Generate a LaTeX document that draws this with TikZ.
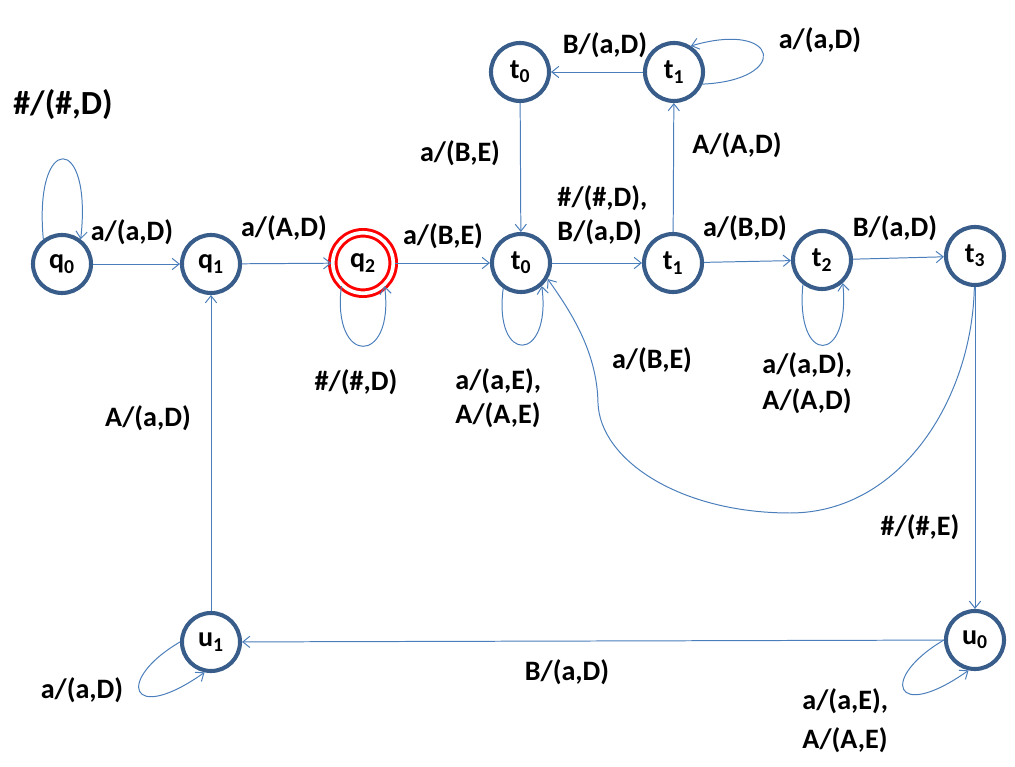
\documentclass[tikz,border=0pt]{standalone}
\usepackage{fontspec}
\setmainfont{Carlito}
\usetikzlibrary{arrows.meta}
\definecolor{ringblue}{RGB}{56,93,138}
\definecolor{lineblue}{RGB}{74,126,187}

\begin{document}
\begin{tikzpicture}[x=0.025cm,y=-0.025cm,
	st/.style={shape=circle,draw=ringblue,line width=2.9pt,minimum size=1.45cm,inner sep=0pt,font=\fontsize{20}{24}\selectfont\bfseries},
	fin/.style={shape=circle,draw=red,double,line width=2.1pt,double distance=2.6pt,minimum size=1.51cm,inner sep=0pt,font=\fontsize{20}{24}\selectfont\bfseries},
	lbl/.style={font=\fontsize{20}{24}\selectfont\bfseries,align=left,inner sep=0pt},
	trans/.style={draw=lineblue,line width=0.7pt,-{Straight Barb[length=5pt,width=8pt]}}]
	\useasboundingbox (0,0) rectangle (1015,767);
	% states on the main row
	\node(q0) [st] at (62,264) {q\textsubscript{0}};
	\node(q1) [st] at (211,264) {q\textsubscript{1}};
	\node(q2) [fin] at (363,263) {q\textsubscript{2}};
	\node(t0) [st] at (521,263) {t\textsubscript{0}};
	\node(t1) [st] at (673,263) {t\textsubscript{1}};
	\node(t2) [st] at (822,260) {t\textsubscript{2}};
	\node(t3) [st] at (975,256) {t\textsubscript{3}};
	% upper and lower states
	\node(t0up) [st] at (520,72) {t\textsubscript{0}};
	\node(t1up) [st] at (674,72) {t\textsubscript{1}};
	\node(u1) [st] at (211,642) {u\textsubscript{1}};
	\node(u0) [st] at (975,640) {u\textsubscript{0}};
	% main row
	\draw[trans] (q0) -- (q1) node [lbl] at (132,232) {a/(a,D)};
	\draw[trans] (q1) -- (q2) node [lbl] at (284,228) {a/(A,D)};
	\draw[trans] (q2) -- (t0) node [lbl] at (443,236) {a/(B,E)};
	\draw[trans] (t0) -- (t1) node [lbl,anchor=west] at (557,215) {\#/(\#,D),\\B/(a,D)};
	\draw[trans] (t1) -- (t2) node [lbl] at (745,228) {a/(B,D)};
	\draw[trans] (t2) -- (t3) node [lbl] at (895,228) {B/(a,D)};
	% loops
	\draw[trans] (q0.127) .. controls +(-10,-107) and +(12,-107) .. (q0.53) node [lbl,font=\fontsize{24}{28}\selectfont\bfseries] at (63,105) {\#/(\#,D)};
	\draw[trans] (q2.227) .. controls +(-10,80) and +(10,80) .. (q2.313) node [lbl] at (356,382) {\#/(\#,D)};
	\draw[trans] (t0.235) .. controls +(-10,77) and +(10,77) .. (t0.312) node [lbl,anchor=west] at (455,398) {a/(a,E),\\A/(A,E)};
	\draw[trans] (t2.232) .. controls +(-8,82) and +(8,82) .. (t2.312) node [lbl,anchor=west] at (762,383) {a/(a,D),\\[2pt]A/(A,D)};
	\draw[trans] (t1up.-23) .. controls +(88,-4) and +(89,-26) .. (t1up.57) node [lbl] at (820,40) {a/(a,D)};
	\draw[trans] (u1.180) .. controls +(-65,38) and +(-75,53) .. (u1.258) node [lbl] at (82,690) {a/(a,D)};
	\draw[trans] (u0.180) .. controls +(-65,38) and +(-75,53) .. (u0.258) node [lbl,anchor=west] at (802,721) {a/(a,E),\\[4pt]A/(A,E)};
	% upper part
	\draw[trans] (t0up) -- (t0) node [lbl] at (460,153) {a/(B,E)};
	\draw[trans] (t1) -- (t1up) node [lbl] at (737,145) {A/(A,D)};
	\draw[trans] (t1up) -- (t0up) node [lbl] at (605,45) {B/(a,D)};
	% back and lower part
	\draw[trans] (t3) .. controls +(-3,144) and +(110,0) .. (790,513)
		.. controls +(-110,0) and +(2,57) .. (598,403)
		.. controls +(-1,-50) and +(25,35) .. (t0.-31) node [lbl] at (652,360) {a/(B,E)};
	\draw[trans] (t3) -- (u0) node [lbl] at (920,527) {\#/(\#,E)};
	\draw[trans] (u0) -- (u1) node [lbl] at (567,672) {B/(a,D)};
	\draw[trans] (u1) -- (q1) node [lbl] at (148,418) {A/(a,D)};
\end{tikzpicture}
\end{document}
